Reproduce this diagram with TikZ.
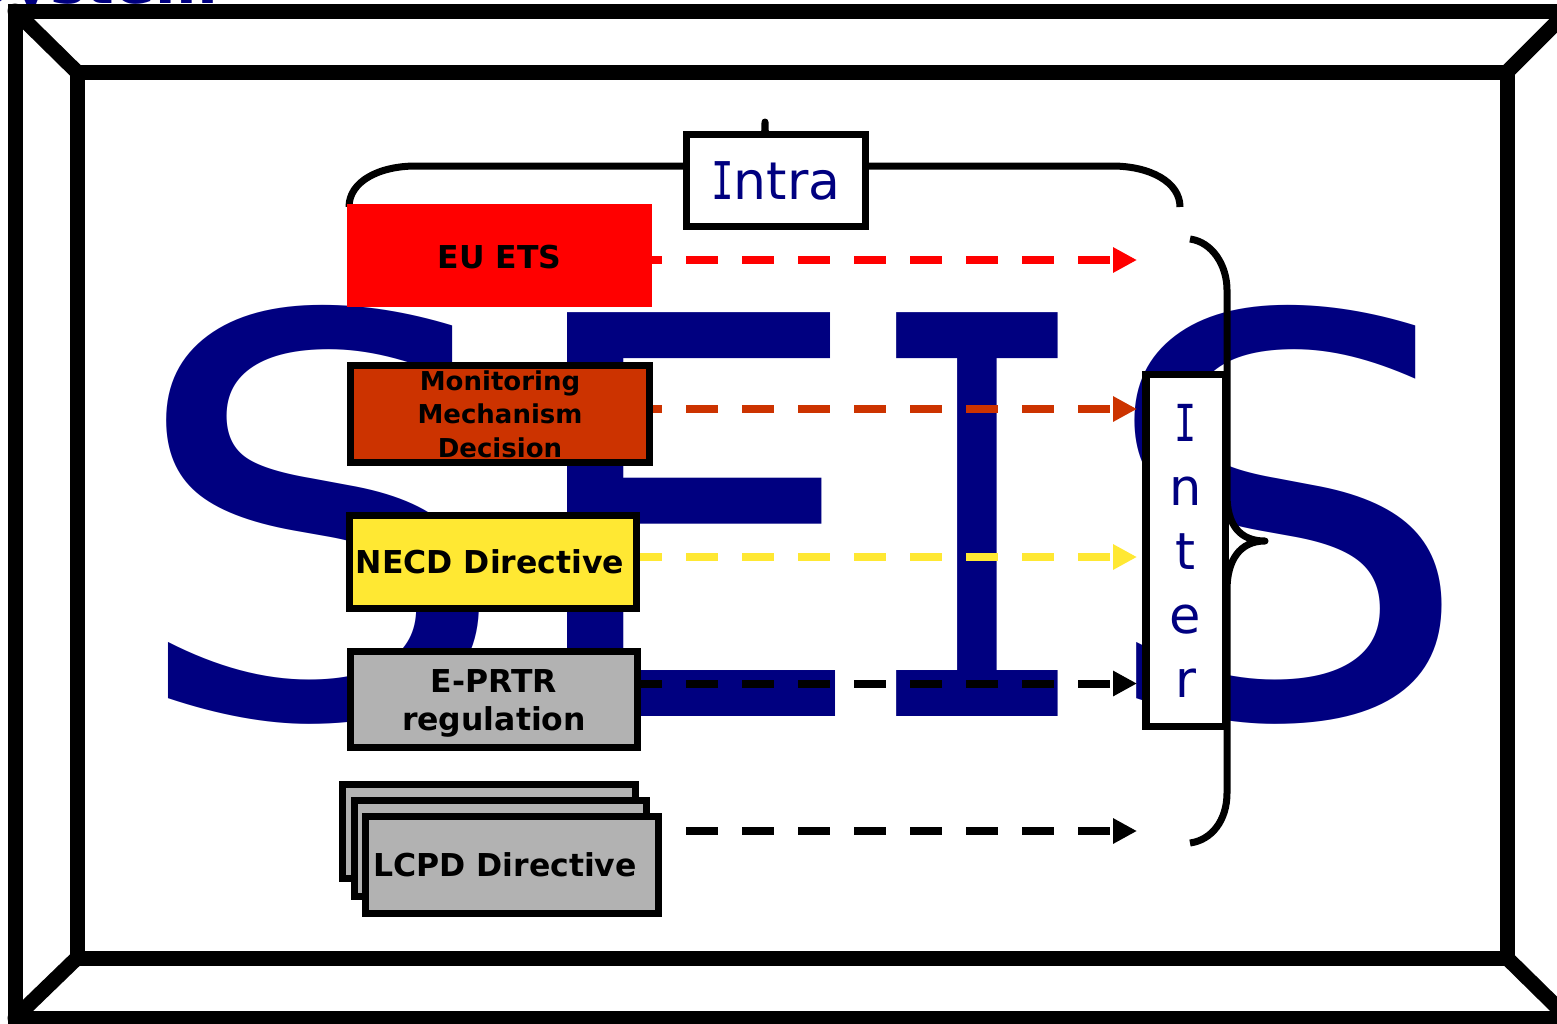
\documentclass[tikz,border=0pt]{standalone}
\usepackage{fontspec}
\setmainfont{DejaVu Sans}
\newfontfamily\monofam{DejaVu Sans Mono}
\usetikzlibrary{arrows.meta}
\definecolor{navy}{HTML}{000080}
\definecolor{etsred}{HTML}{FF0000}
\definecolor{mmorange}{HTML}{CC3300}
\definecolor{necdyellow}{HTML}{FFE833}
\definecolor{boxgrey}{HTML}{B2B2B2}
\newcommand{\serifI}{\scalebox{0.72}[1]{\monofam I}}
\newcommand{\lowerby}[2]{\raisebox{-#1}[\height][\depth]{#2}}
\begin{document}
\begin{tikzpicture}[x=1pt,y=-1pt,
  frameline/.style={line width=15pt, line cap=round},
  bigletter/.style={inner sep=0pt, anchor=base, text=navy, font=\fontsize{554}{554}\selectfont},
  bracepath/.style={line width=7pt, line join=round},
  srcbox/.style={draw=black, line width=7pt, rectangle, inner sep=0pt, align=center,
    font=\bfseries\fontsize{31.5}{38}\selectfont},
  flow/.style={line width=8pt, dash pattern=on 32pt off 24pt, -{Triangle[length=24pt,width=24pt]}},
  labelbox/.style={draw=black, fill=white, rectangle, inner sep=0pt, text=navy, align=center}]
\useasboundingbox (0,0) rectangle (1557,1023);
\fill[white] (0,0) rectangle (1557,1023);
% title remnant
\node[anchor=base east, inner sep=0pt, text=navy, font=\bfseries\fontsize{60}{60}\selectfont] (title) at (218,3) {System};
% frame
\draw[frameline] (15,11) rectangle (1568,1018);
\draw[frameline] (77,72) rectangle (1507,958);
\draw[frameline] (15,11) -- (77,72);
\draw[frameline] (1568,11) -- (1507,72);
\draw[frameline] (1507,958) -- (1568,1018);
\draw[frameline] (15,1018) -- (77,958);
% big letters
\node[bigletter] (s1) at (320,716) {\scalebox{1.1}[1]{S}};
\node[bigletter] (e) at (692,716) {\scalebox{1.03}[1]{E}};
\node[bigletter, font=\monofam\fontsize{554}{554}\selectfont] (i) at (978,716) {\scalebox{0.72}[1]{I}};
\node[bigletter] (s2) at (1285,716) {\scalebox{1.08}[1]{S}};
% braces
\draw[bracepath] (349,207) .. controls (349,182) and (378,166) .. (416,166) -- (745,166)
  .. controls (760,166) and (765,145) .. (765,122)
  .. controls (765,145) and (770,166) .. (785,166) -- (1112,166)
  .. controls (1150,166) and (1180,182) .. (1180,207);
\draw[bracepath] (1190,239) .. controls (1212,242) and (1227,265) .. (1227,290) -- (1227,495)
  .. controls (1227,525) and (1240,541) .. (1265,541)
  .. controls (1240,541) and (1227,560) .. (1227,590) -- (1227,793)
  .. controls (1227,820) and (1212,840) .. (1190,843);
% source boxes
\node[rectangle, fill=etsred, draw=none, outer sep=0pt, inner sep=0pt, minimum width=305pt, minimum height=103pt,
  font=\bfseries\fontsize{31.5}{38}\selectfont] (ets) at (499.5,255.5) {\lowerby{2pt}{EU ETS}};
\node[srcbox, fill=mmorange, minimum width=299pt, minimum height=97pt,
  font=\bfseries\fontsize{26}{33.5}\selectfont] (mmd) at (500,414) {Monitoring\\Mechanism\\Decision};
\node[srcbox, fill=necdyellow, minimum width=287pt, minimum height=93pt] (necd) at (493,562) {\hspace*{-6pt}NECD Directive};
\node[srcbox, fill=boxgrey, minimum width=287pt, minimum height=96pt] (eprtr) at (494,699.5) {\lowerby{4pt}{\begin{tabular}{@{}c@{}}E-PRTR\\[0pt]regulation\end{tabular}}};
\node[srcbox, fill=boxgrey, minimum width=293pt, minimum height=94pt] (lcpd1) at (489,831.5) {};
\node[srcbox, fill=boxgrey, minimum width=292pt, minimum height=96pt] (lcpd2) at (500.5,848.5) {};
\node[srcbox, fill=boxgrey, minimum width=293pt, minimum height=97pt] (lcpd3) at (512,865) {\hspace*{-14pt}LCPD Directive};
% targets
\coordinate (t1) at (1137,260);
\coordinate (t2) at (1137,409);
\coordinate (t3) at (1137,557);
\coordinate (t4) at (1137,683.5);
\coordinate (t5) at (1137,831);
% flows
\draw[flow, etsred, dash phase=22pt] (ets.east |- t1) -- (t1);
\draw[flow, mmorange, dash phase=23pt] (mmd.east |- t2) -- (t2);
\draw[flow, necdyellow, dash phase=10pt] (necd.east |- t3) -- (t3);
\draw[flow, black, dash phase=11pt] (eprtr.east |- t4) -- (t4);
\draw[flow, black, dash phase=32pt] (lcpd3.east |- t5) -- (t5);
% Intra / Inter labels
\node[labelbox, line width=7pt, minimum width=179pt, minimum height=92pt,
  font=\fontsize{52}{52}\selectfont] (intra) at (776,180.5) {\serifI ntra};
\node[labelbox, line width=7.5pt, minimum width=79.5pt, minimum height=352pt,
  font=\fontsize{51}{64}\selectfont] (inter) at (1185.5,550.5) {\serifI\\n\\t\\e\\r};
\end{tikzpicture}
\end{document}
